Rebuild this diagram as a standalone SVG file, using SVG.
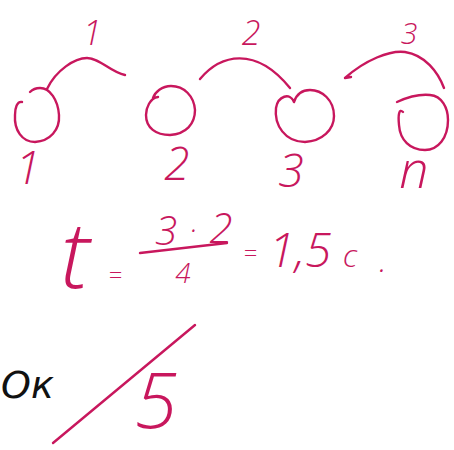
<svg xmlns="http://www.w3.org/2000/svg" width="454" height="450" viewBox="0 0 454 450">
<style>
.s{fill:none;stroke:#c8175d;stroke-width:2.4;stroke-linecap:round;stroke-linejoin:round}
.t{fill:#c8175d;font-family:"Open Sans","DejaVu Sans",sans-serif;font-weight:300;font-style:italic}
.b{fill:#111;font-family:"DejaVu Sans",sans-serif;font-style:italic}
</style>
<rect width="454" height="450" fill="#fff"/>
<g id="connectors">
<path class="s" d="M47,89 C56,70 75,58 87,58 C100,58 110,72 125,75"/>
<path class="s" d="M200,79 C220,55 255,45 290,88"/>
<path class="s" d="M345,78 C365,60 390,50 405,52 C425,55 438,72 444,88 M345,78 L351,77"/>
</g>
<g id="node1">
<path class="s" d="M22,102 C17,101 15,108 15,115 C14,130 22,142 35,142 C50,141 60,130 59,115 C58,100 50,88 40,88 C35,88 32,90 30,92"/>
<text class="t" x="28" y="184" font-size="46" text-anchor="middle">1</text>
</g>
<g id="node2">
<path class="s" d="M158,97 C150,98 146,108 146,115 C146,128 156,135 170,135 C186,134 195,124 195,110 C194,96 184,86 171,86 C162,86 155,92 153,98"/>
<text class="t" x="177" y="180" font-size="46" text-anchor="middle">2</text>
</g>
<g id="node3">
<path class="s" d="M294,102 C290,92 278,96 276,108 C274,125 285,142 305,142 C322,141 334,130 334,116 C334,100 322,90 310,90 C300,90 296,96 294,102"/>
<text class="t" x="291" y="187" font-size="46" text-anchor="middle">3</text>
</g>
<g id="node4">
<path class="s" d="M397,102 C410,96 420,94 430,95 C442,96 448,108 448,120 C448,138 438,150 425,150 C410,150 400,140 399,125 C398,115 399,108 403,112"/>
<text class="t" x="414" y="188" font-size="52" text-anchor="middle">n</text>
</g>
<g id="top-labels">
<text class="t" x="92" y="45" font-size="34" text-anchor="middle">1</text>
<text class="t" x="251" y="45" font-size="34" text-anchor="middle">2</text>
<text class="t" x="409" y="44" font-size="30" text-anchor="middle">3</text>
</g>
<g id="formula">
<text class="t" x="75" y="288" font-size="92" text-anchor="middle">t</text>
<text class="t" x="115" y="284" font-size="24" text-anchor="middle">=</text>
<text class="t" x="166" y="245" font-size="40" text-anchor="middle">3</text>
<text class="t" x="193" y="240" font-size="30" text-anchor="middle">·</text>
<text class="t" x="221" y="243" font-size="42" text-anchor="middle">2</text>
<path class="s" d="M140,253 L227,243"/>
<text class="t" x="183" y="283" font-size="28" text-anchor="middle">4</text>
<text class="t" x="250" y="262" font-size="24" text-anchor="middle">=</text>
<text class="t" x="300" y="267" font-size="48" text-anchor="middle">1,5</text>
<text class="t" x="350" y="267" font-size="32" text-anchor="middle">c</text>
<text class="t" x="383" y="272" font-size="32" text-anchor="middle">.</text>
</g>
<g id="bottom">
<text class="b" x="1" y="398" font-size="38">Ок</text>
<path class="s" d="M53,443 L195,325" stroke-width="1.6"/>
<text class="t" x="156" y="428" font-size="78" text-anchor="middle">5</text>
</g>
</svg>
